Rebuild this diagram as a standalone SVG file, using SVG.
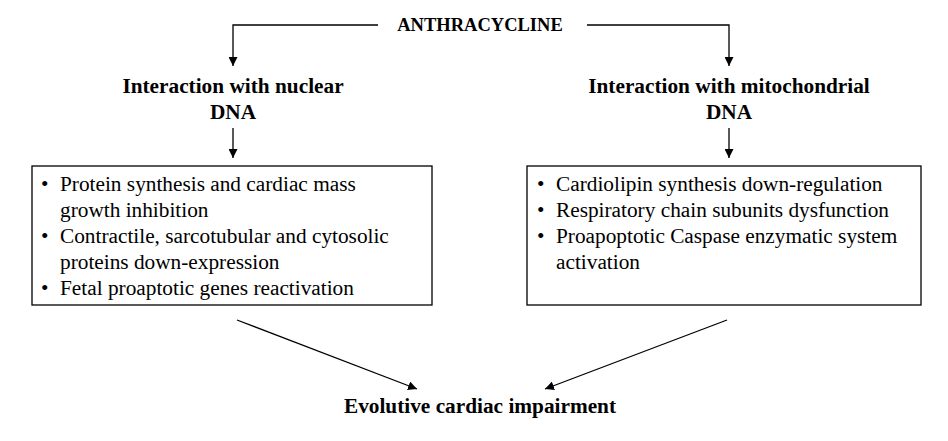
<svg xmlns="http://www.w3.org/2000/svg" width="948" height="441" viewBox="0 0 948 441">
<style>
.b{font-family:"Liberation Serif","Times New Roman",serif;font-weight:bold;font-size:21.3px;fill:#000}
.t{font-family:"Liberation Serif","Times New Roman",serif;font-size:21.3px;fill:#000}
.ln{stroke:#000;stroke-width:1.3;fill:none}
.box{stroke:#000;stroke-width:1.3;fill:#fff}
</style>
<defs>
<marker id="ah" viewBox="0 0 10 10" refX="10" refY="5" markerWidth="9" markerHeight="9" markerUnits="userSpaceOnUse" orient="auto">
<path d="M0,0 L10,5 L0,10 z" fill="#000"/>
</marker>
</defs>
<rect width="948" height="441" fill="#fff"/>
<g id="connectors">
<path class="ln" d="M378,25 H233 V66" marker-end="url(#ah)"/>
<path class="ln" d="M587,25 H729 V66" marker-end="url(#ah)"/>
<path class="ln" d="M233,128 V158" marker-end="url(#ah)"/>
<path class="ln" d="M729,128 V158" marker-end="url(#ah)"/>
<path class="ln" d="M237,320 L417,389" marker-end="url(#ah)"/>
<path class="ln" d="M727,320 L545,389" marker-end="url(#ah)"/>
</g>
<g id="anthracycline">
<text class="b" x="480" y="31" text-anchor="middle" style="font-size:18.5px">ANTHRACYCLINE</text>
</g>
<g id="nuclear">
<text class="b" x="233" y="93" text-anchor="middle">Interaction with nuclear</text>
<text class="b" x="233" y="119" text-anchor="middle">DNA</text>
</g>
<g id="mitochondrial">
<text class="b" x="729" y="93" text-anchor="middle">Interaction with mitochondrial</text>
<text class="b" x="729" y="119" text-anchor="middle">DNA</text>
</g>
<g id="nuclear-effects">
<rect class="box" x="32" y="166" width="400" height="139"/>
<text class="t" x="41" y="191">•</text>
<text class="t" x="60" y="191">Protein synthesis and cardiac mass</text>
<text class="t" x="60" y="217">growth inhibition</text>
<text class="t" x="41" y="243">•</text>
<text class="t" x="60" y="243">Contractile, sarcotubular and cytosolic</text>
<text class="t" x="60" y="269">proteins down-expression</text>
<text class="t" x="41" y="295">•</text>
<text class="t" x="60" y="295">Fetal proaptotic genes reactivation</text>
</g>
<g id="mitochondrial-effects">
<rect class="box" x="527" y="166" width="394" height="139"/>
<text class="t" x="537" y="191">•</text>
<text class="t" x="556" y="191">Cardiolipin synthesis down-regulation</text>
<text class="t" x="537" y="217">•</text>
<text class="t" x="556" y="217">Respiratory chain subunits dysfunction</text>
<text class="t" x="537" y="243">•</text>
<text class="t" x="556" y="243">Proapoptotic Caspase enzymatic system</text>
<text class="t" x="556" y="269">activation</text>
</g>
<g id="impairment">
<text class="b" x="480" y="413" text-anchor="middle">Evolutive cardiac impairment</text>
</g>
</svg>
